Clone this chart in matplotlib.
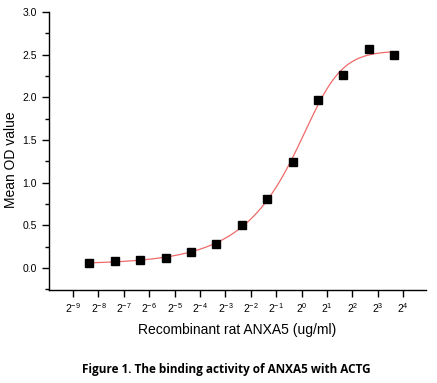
import numpy as np
import matplotlib
matplotlib.use("Agg")
import matplotlib.pyplot as plt

plt.rcParams['font.family'] = ['Liberation Sans', 'DejaVu Sans']
plt.rcParams['mathtext.fontset'] = 'custom'
plt.rcParams['mathtext.rm'] = 'Liberation Sans'
plt.rcParams['mathtext.it'] = 'Liberation Sans'

# Data (concentration in ug/ml, mean OD)
conc = [12.5, 6.25, 3.125, 1.5625, 0.78125, 0.390625, 0.1953125,
        0.09765625, 0.048828125, 0.0244140625, 0.01220703125,
        0.006103515625, 0.0030517578125]
od = [2.50, 2.57, 2.266, 1.97, 1.243, 0.805, 0.504,
      0.285, 0.184, 0.113, 0.094, 0.078, 0.06]
tick_exps = list(range(-9, 5))
tick_labels = [r'$2^{%d}$' % e for e in tick_exps]

x = np.log2(np.array(conc))
y = np.array(od)

# 5-parameter logistic fit in log2 space (simple Levenberg-Marquardt)
def f(p, t):
    a, d, c, h, g = p
    g = np.exp(g)
    return a + (d - a) / (1 + np.exp(-h * (t - c)))**g

def fit(p0):
    p = np.array(p0, float)
    lam = 1e-2
    for _ in range(3000):
        r = y - f(p, x)
        J = np.zeros((len(x), len(p)))
        eps = 1e-6
        for i in range(len(p)):
            dp = np.zeros(len(p)); dp[i] = eps
            J[:, i] = (f(p + dp, x) - f(p, x)) / eps
        A = J.T @ J + lam * np.diag(np.diag(J.T @ J) + 1e-9)
        step = np.linalg.solve(A, J.T @ r)
        pn = p + step
        if np.all(np.isfinite(f(pn, x))) and np.sum((y - f(pn, x))**2) < np.sum(r**2):
            p = pn; lam *= 0.5
        else:
            lam *= 3
    return p, np.sum((y - f(p, x))**2)

best = None
for g0 in [-1.5, -1.0, -0.5, 0.0]:
    for h0 in [0.8, 1.2, 1.8]:
        try:
            p, s = fit([0.04, 2.55, 0.0, h0, g0])
        except Exception:
            continue
        if best is None or s < best[1]:
            best = (p, s)
p = best[0]

fig = plt.figure(figsize=(4.37, 3.83), dpi=100)
ax = fig.add_axes([0.112, 0.243, 0.863, 0.726])

xs = np.linspace(x.min(), x.max(), 400)
ax.plot(2**xs, f(p, xs), color='#f06a6a', lw=0.9, zorder=2)
ax.plot(conc, od, 's', color='black', ms=5.5, zorder=3)

ax.set_xscale('log', base=2)
ax.set_xlim(2**-9.95, 2**4.9)
ax.set_ylim(-0.258, 3.0)
ax.set_xticks([2.0**e for e in tick_exps])
ax.set_xticklabels(tick_labels)
ax.xaxis.set_minor_locator(matplotlib.ticker.NullLocator())
ax.set_yticks(np.arange(0, 3.01, 0.5))
ax.set_yticklabels(['%.1f' % v for v in np.arange(0, 3.01, 0.5)])
ax.yaxis.set_minor_locator(matplotlib.ticker.MultipleLocator(0.25))

for s in ['top', 'right']:
    ax.spines[s].set_visible(False)
for s in ['left', 'bottom']:
    ax.spines[s].set_linewidth(1.0)
ax.tick_params(axis='both', which='major', direction='out', length=5, width=1, labelsize=7.5)
ax.tick_params(axis='y', which='minor', direction='out', length=3, width=1)
ax.tick_params(axis='x', pad=3)

fig.text(11 / 437, 1 - 160 / 383, 'Mean OD value', rotation=90,
         ha='center', va='center', fontsize=10)
ax.set_xlabel('Recombinant rat ANXA5 (ug/ml)', fontsize=10, labelpad=6)

fig.text(0.517, 0.034, 'Figure 1. The binding activity of ANXA5 with ACTG',
         ha='center', va='center', fontsize=8.5, fontweight='bold',
         family=['Open Sans', 'DejaVu Sans'])

fig.savefig('out.png', dpi=100)
